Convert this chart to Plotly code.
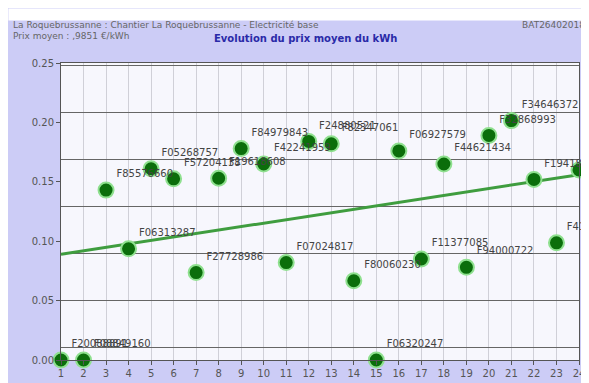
import numpy as np
import plotly.graph_objects as go

months = list(range(1, 25))
prix = [0.0, 0.0, 0.143, 0.0936, 0.161, 0.1525, 0.0736, 0.153, 0.178, 0.165, 0.082, 0.184,
        0.182, 0.0667, 0.0, 0.176, 0.085, 0.165, 0.078, 0.189, 0.2015, 0.152, 0.0986, 0.160]
factures = ["F20088891", "F08849160", "F85576660", "F06313287", "F05268757", "F57204138",
            "F27728986", "F19618608", "F84979843", "F42241959", "F07024817", "F24880521",
            "F82347061", "F80060230", "F06320247", "F06927579", "F11377085", "F44621434",
            "F94000722", "F32868993", "F34646372", "F19418855", "F41663210", "E5580312"]
y_ticks = [0.0, 0.05, 0.10, 0.15, 0.20, 0.25]

lav = "#ccccf6"
grey = "#555555"
font = "DejaVu Sans"

coef = np.polyfit(months, prix, 1)
trend = np.polyval(coef, [months[0], months[-1]])

fig = go.Figure()
# helper trace for the secondary grid axis
fig.add_trace(go.Scatter(x=months, y=prix, yaxis="y2", mode="markers",
                         marker=dict(opacity=0), hoverinfo="skip", showlegend=False))
fig.add_trace(go.Scatter(x=[months[0], months[-1]], y=trend, mode="lines",
                         line=dict(color="#3f9d3f", width=3), showlegend=False,
                         cliponaxis=False))
fig.add_trace(go.Scatter(x=months, y=prix, mode="markers+text", text=factures,
                         textposition="top right",
                         textfont=dict(family=font, size=10, color="#444444"),
                         marker=dict(size=15, color="#0b6e0b",
                                     line=dict(color="#8fe08f", width=2)),
                         cliponaxis=False, showlegend=False))

W, H = 589, 383
L, R, T, B = 53, 14, 55, 28
pw, ph = W - L - R, H - T - B

def px(x):
    return (x - L) / pw

def py(y):
    return (H - B - y) / ph

fig.add_shape(type="rect", xref="paper", yref="paper", x0=px(0), x1=px(W), y0=py(12), y1=py(0),
              fillcolor="white", line=dict(width=0), layer="below")

fig.add_annotation(text="La Roquebrussanne : Chantier La Roquebrussanne - Electricité base",
                   xref="paper", yref="paper", x=px(3), y=py(17), xanchor="left", yanchor="middle",
                   showarrow=False, font=dict(family=font, size=9, color="#666666"))
fig.add_annotation(text="Prix moyen : ,9851 €/kWh",
                   xref="paper", yref="paper", x=px(3), y=py(28), xanchor="left", yanchor="middle",
                   showarrow=False, font=dict(family=font, size=9, color="#666666"))
fig.add_annotation(text="<b>Evolution du prix moyen du kWh</b>",
                   xref="paper", yref="paper", x=px(299), y=py(30), xanchor="center", yanchor="middle",
                   showarrow=False, font=dict(family=font, size=10, color="#2a2aa8"))
fig.add_annotation(text="BAT264020187",
                   xref="paper", yref="paper", x=px(589), y=py(17), xanchor="right", yanchor="middle",
                   showarrow=False, font=dict(family=font, size=9, color="#666666"))

fig.update_layout(
    width=W, height=H,
    margin=dict(l=L, r=R, t=T, b=B, pad=0),
    paper_bgcolor=lav, plot_bgcolor="#f7f7fd",
    font=dict(family=font, size=10, color=grey),
    xaxis=dict(range=[1, 24], tickmode="array", tickvals=months, ticktext=[str(m) for m in months],
               showgrid=True, gridcolor="#d0d0d8", gridwidth=1, zeroline=False,
               showline=True, linecolor="#555555", linewidth=1, mirror=True,
               ticks="outside", ticklen=4, tickcolor="#555555",
               tickfont=dict(family=font, size=10, color=grey)),
    yaxis=dict(range=[0, 0.25], tickmode="array", tickvals=y_ticks,
               ticktext=[f"{v:.2f}" for v in y_ticks], showgrid=False, zeroline=False,
               showline=True, linecolor="#555555", linewidth=1, mirror=True,
               ticks="outside", ticklen=4, tickcolor="#555555",
               tickfont=dict(family=font, size=10, color=grey)),
    yaxis2=dict(range=[0, 0.25], overlaying="y", side="right", showticklabels=False,
                tick0=0.0105, dtick=0.0395, showgrid=True, gridcolor="#666666", gridwidth=1,
                zeroline=False, showline=False, ticks=""),
)

fig.write_html("out.html")
